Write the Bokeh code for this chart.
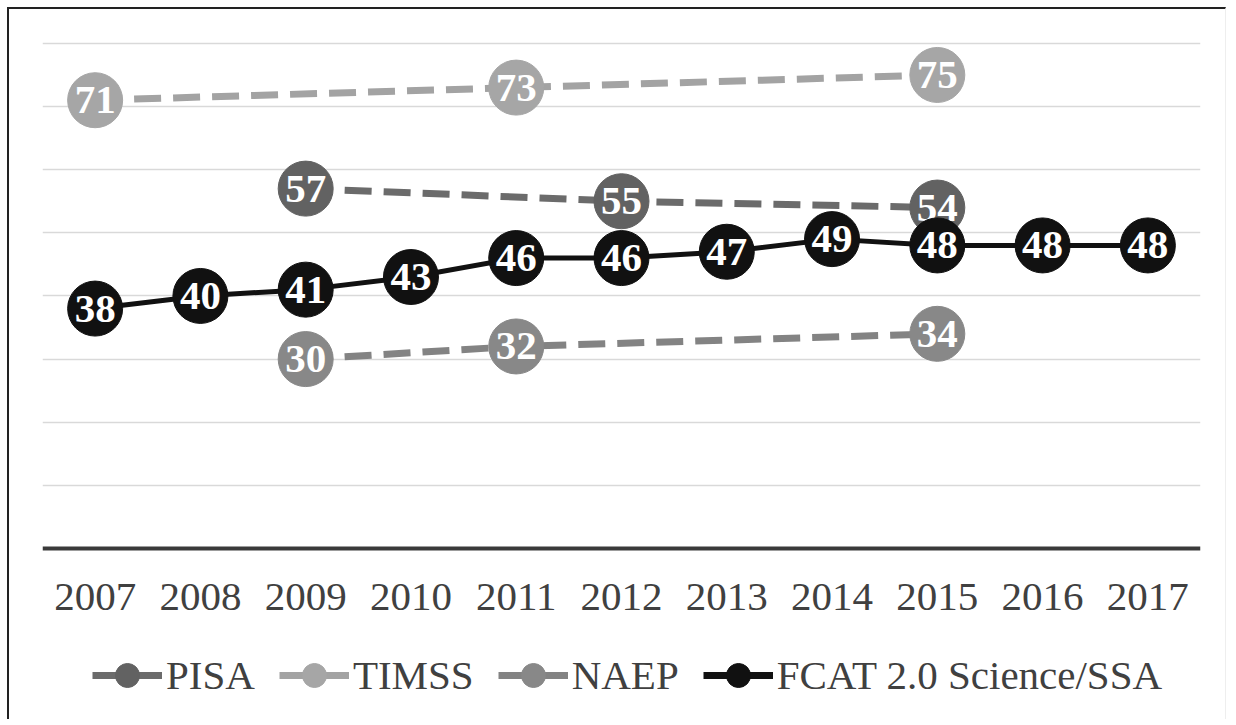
from bokeh.plotting import figure
from bokeh.models import Range1d, FactorRange, FixedTicker, Legend, LegendItem, ColumnDataSource
from bokeh.core.properties import value
from bokeh.embed import file_html
from bokeh.resources import INLINE

years = ["2007", "2008", "2009", "2010", "2011", "2012", "2013", "2014", "2015", "2016", "2017"]

pisa_years = ["2009", "2012", "2015"]
pisa_vals = [57, 55, 54]

timss_years = ["2007", "2011", "2015"]
timss_vals = [71, 73, 75]

naep_years = ["2009", "2011", "2015"]
naep_vals = [30, 32, 34]

fcat_years = years
fcat_vals = [38, 40, 41, 43, 46, 46, 47, 49, 48, 48, 48]

series = [
    ("PISA", pisa_years, pisa_vals, "#626262", "#6b6b6b", True),
    ("TIMSS", timss_years, timss_vals, "#a6a6a6", "#a3a3a3", True),
    ("NAEP", naep_years, naep_vals, "#888888", "#838383", True),
    ("FCAT 2.0 Science/SSA", fcat_years, fcat_vals, "#111111", "#111111", False),
]

FONT = "Liberation Serif"

# the frame spans the whole lower area so that the legend can sit inside it
p = figure(width=1219, height=712, output_backend="svg", toolbar_location=None,
           x_range=FactorRange(*years, range_padding=0), y_range=Range1d(-27.4, 80.3),
           min_border_left=33, min_border_right=28, min_border_top=32, min_border_bottom=0)
p.styles = {"margin-left": "7px", "margin-top": "7px",
            "border-top": "2px solid #222222", "border-left": "2px solid #222222",
            "border-right": "1px solid #eeeeee"}
p.outline_line_color = None
p.background_fill_color = "white"
p.border_fill_color = "white"

p.yaxis.visible = False
p.xgrid.grid_line_color = None
p.ygrid.ticker = FixedTicker(ticks=[10, 20, 30, 40, 50, 60, 70, 80])
p.ygrid.grid_line_color = "#d9d9d9"
p.ygrid.grid_line_width = 1.5

p.xaxis.fixed_location = 0
p.xaxis.axis_line_color = "#3a3a3a"
p.xaxis.axis_line_width = 4
p.xaxis.major_tick_line_color = None
p.xaxis.minor_tick_line_color = None
p.xaxis.major_label_text_font = FONT
p.xaxis.major_label_text_font_size = "41px"
p.xaxis.major_label_text_color = "#404040"
p.xaxis.major_label_standoff = 29

# legend proxies first (solid line with marker, as in the reference legend);
# they sit on each series' first point and are covered by the real marks
items = []
for name, xs, ys, mcol, lcol, dashed in series:
    psrc = ColumnDataSource(dict(x=xs[:1], y=ys[:1]))
    lr = p.line("x", "y", source=psrc, line_color=lcol, line_width=7)
    sr = p.scatter("x", "y", source=psrc, fill_color=mcol, line_color=mcol, size=2)
    items.append(LegendItem(label=name, renderers=[lr, sr]))

for name, xs, ys, mcol, lcol, dashed in series:
    src = ColumnDataSource(dict(x=xs, y=ys, t=[str(v) for v in ys]))
    p.line("x", "y", source=src, line_color=lcol, line_width=7 if dashed else 5,
           line_dash="27 12" if dashed else "solid")
    p.scatter("x", "y", source=src, size=55, fill_color=mcol, line_color=mcol)
    p.text("x", "y", text="t", source=src, text_color="white", text_font=value(FONT),
           text_font_style="bold", text_font_size="41px", text_align="center",
           text_baseline="middle")

legend = Legend(items=items, orientation="horizontal", location=(50, 16),
                label_text_font=FONT, label_text_font_size="41px", label_text_color="#404040",
                glyph_width=70, glyph_height=60, label_standoff=4, spacing=24,
                padding=0, margin=0, border_line_color=None, background_fill_alpha=0)
p.add_layout(legend, "center")

open("out.html", "w").write(file_html(p, INLINE))
